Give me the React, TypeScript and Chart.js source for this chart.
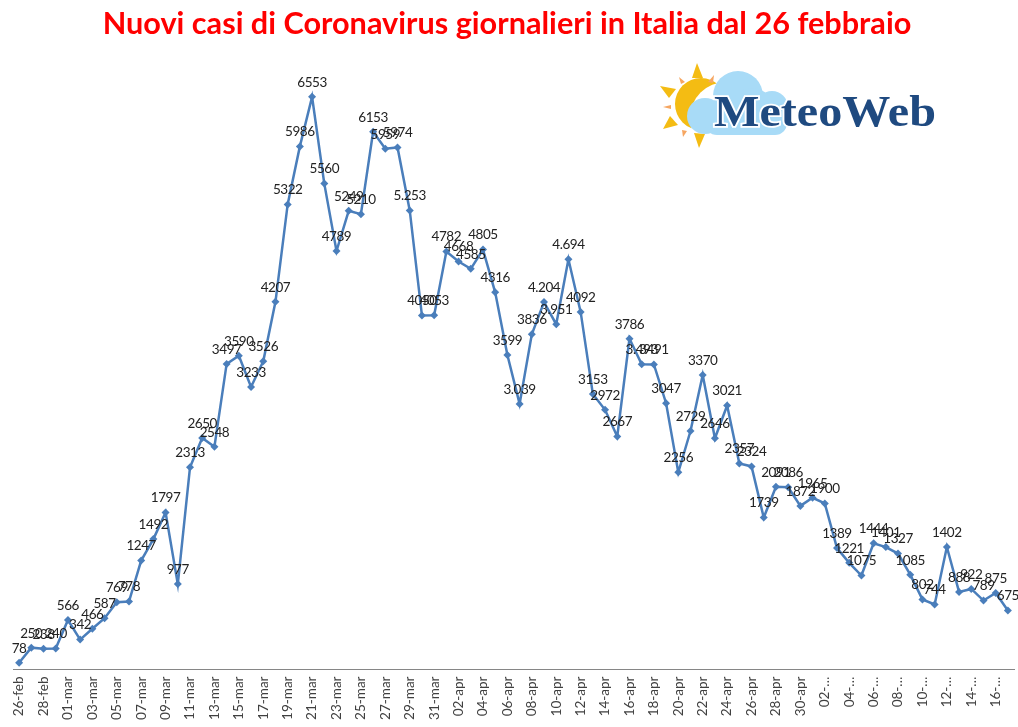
import React, { useEffect, useRef } from "react";
import { Chart, registerables } from "chart.js";

Chart.register(...registerables);

const titleText = "Nuovi casi di Coronavirus giornalieri in Italia dal 26 febbraio";

const febDays = ["26-feb", "27-feb", "28-feb", "29-feb"];
const marDays = ["01-mar","02-mar","03-mar","04-mar","05-mar","06-mar","07-mar","08-mar","09-mar","10-mar","11-mar","12-mar","13-mar","14-mar","15-mar","16-mar","17-mar","18-mar","19-mar","20-mar","21-mar","22-mar","23-mar","24-mar","25-mar","26-mar","27-mar","28-mar","29-mar","30-mar","31-mar"];
const aprDays = ["01-apr","02-apr","03-apr","04-apr","05-apr","06-apr","07-apr","08-apr","09-apr","10-apr","11-apr","12-apr","13-apr","14-apr","15-apr","16-apr","17-apr","18-apr","19-apr","20-apr","21-apr","22-apr","23-apr","24-apr","25-apr","26-apr","27-apr","28-apr","29-apr","30-apr"];
const mayDays = ["01-…","02-…","03-…","04-…","05-…","06-…","07-…","08-…","09-…","10-…","11-…","12-…","13-…","14-…","15-…","16-…","17-…"];
const categories = [...febDays, ...marDays, ...aprDays, ...mayDays];

const febCases = [78, 250, 238, 240];
const marCases = [566, 342, 466, 587, 769, 778, 1247, 1492, 1797, 977, 2313, 2650, 2548, 3497, 3590, 3233, 3526, 4207, 5322, 5986, 6553, 5560, 4789, 5249, 5210, 6153, 5959, 5974, 5253, 4050, 4053];
const aprCases = [4782, 4668, 4585, 4805, 4316, 3599, 3039, 3836, 4204, 3951, 4694, 4092, 3153, 2972, 2667, 3786, 3493, 3491, 3047, 2256, 2729, 3370, 2646, 3021, 2357, 2324, 1739, 2091, 2086, 1872];
const mayCases = [1965, 1900, 1389, 1221, 1075, 1444, 1401, 1327, 1085, 802, 744, 1402, 888, 922, 789, 875, 675];
const cases = [...febCases, ...marCases, ...aprCases, ...mayCases];

// Values the source prints with a thousands dot
const dottedValues = [5253, 3039, 4204, 3951, 4694, 3493];
const labelFor = (v: number) =>
  dottedValues.includes(v) ? `${Math.floor(v / 1000)}.${String(v % 1000).padStart(3, "0")}` : String(v);

const LINE = "#4A7EBB";

const dataLabels = {
  id: "dataLabels",
  afterDatasetsDraw(chart: any) {
    const { ctx } = chart;
    const meta = chart.getDatasetMeta(0);
    ctx.save();
    ctx.font = "13.5px Lato";
    (ctx as any).letterSpacing = "-0.45px";
    ctx.fillStyle = "#222222";
    ctx.textAlign = "center";
    ctx.textBaseline = "middle";
    meta.data.forEach((pt: any, i: number) => {
      ctx.fillText(labelFor(cases[i]), pt.x, pt.y - 14.5);
    });
    ctx.restore();
  },
};

function Logo() {
  return (
    <svg width={300} height={110} viewBox="650 50 300 110" style={{ position: "absolute", left: 650, top: 50 }}>
      <circle cx={701} cy={104} r={26} fill="#F4BC13" />
      <circle cx={726} cy={118} r={36} fill="#ffffff" />
      <g fill="#F4BC13">
        <polygon points="697,63 692,78 703,78" />
        <polygon points="660,86 676,89 669,98" />
        <polygon points="663,129 670,116 678,125" />
        <polygon points="699,148 694,133 705,134" />
      </g>
      <g fill="#F6A661">
        <polygon points="679,77 685,82 681,84" />
        <polygon points="714,75 708,82 713,83" />
        <polygon points="663,107 671,105 671,109" />
        <polygon points="683,137 687,131 682,130" />
      </g>
      <g fill="#A8DBF7">
        <circle cx={738} cy={96} r={25} />
        <circle cx={772} cy={107} r={16} />
        <circle cx={705} cy={116} r={18} />
        <circle cx={752} cy={110} r={22} />
        <rect x={705} y={108} width={82} height={27} rx={12} />
      </g>
      <text
        x={714}
        y={126}
        textLength={222}
        lengthAdjust="spacingAndGlyphs"
        fontFamily="'Liberation Serif'"
        fontWeight="bold"
        fontSize={45}
        fill="#1F4A80"
        stroke="#ffffff"
        strokeWidth={3.5}
        paintOrder="stroke"
      >
        MeteoWeb
      </text>
    </svg>
  );
}

export default function App() {
  const ref = useRef<HTMLCanvasElement>(null);

  useEffect(() => {
    const chart = new Chart(ref.current!, {
      type: "line",
      data: {
        labels: categories,
        datasets: [
          {
            data: cases,
            borderColor: LINE,
            backgroundColor: LINE,
            borderWidth: 2.5,
            tension: 0,
            pointStyle: "rectRot",
            pointRadius: 4,
            pointBackgroundColor: LINE,
            pointBorderColor: LINE,
            pointBorderWidth: 0,
          },
        ],
      },
      options: {
        animation: false,
        responsive: false,
        layout: { padding: { left: 0, right: 4, top: 0, bottom: 0 } },
        plugins: {
          legend: { display: false },
          tooltip: { enabled: false },
          title: {
            display: true,
            text: titleText,
            color: "#FF0000",
            font: { family: "Lato", weight: "bold", size: 30.65, lineHeight: 1.2 },
            padding: { top: 6, bottom: 15 },
          },
        },
        scales: {
          y: { display: false, min: 0, max: 7000 },
          x: {
            offset: true,
            grid: { display: false, drawTicks: false },
            border: { display: true, color: "#868686", width: 1 },
            afterFit: (s: any) => {
              s.height = 57.5;
              s.paddingLeft = 13;
              s.paddingRight = 0;
            },
            ticks: {
              autoSkip: false,
              minRotation: 90,
              maxRotation: 90,
              padding: 7,
              color: "#404040",
              font: { family: "Lato", size: 13.5 },
              callback: (_v: any, i: number) => (i % 2 === 0 ? categories[i] : ""),
            },
          },
        },
      },
      plugins: [dataLabels],
    } as any);
    return () => chart.destroy();
  }, []);

  return (
    <div style={{ position: "absolute", left: 0, top: 0, width: 1018, height: 727, overflow: "hidden", background: "#fff" }}>
      <canvas ref={ref} width={1018} height={727} style={{ display: "block" }} />
      <Logo />
    </div>
  );
}
